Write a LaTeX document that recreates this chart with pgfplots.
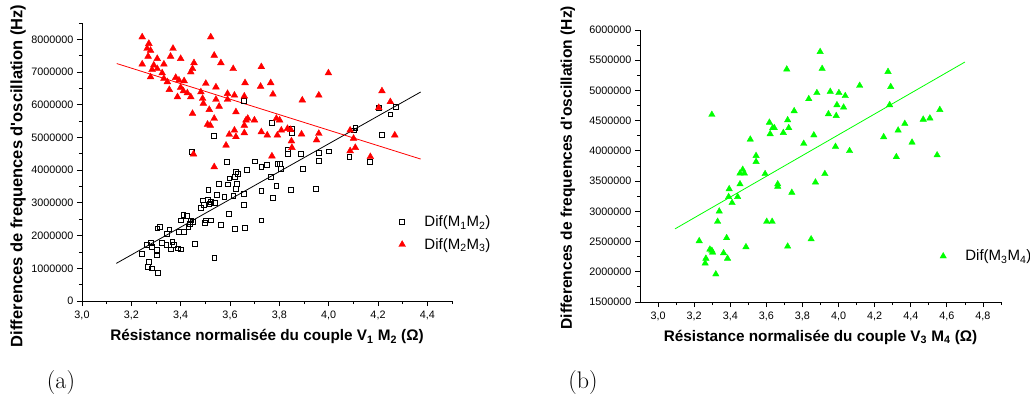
\documentclass[border=0pt]{standalone}
\usepackage{fontspec}
\usepackage{pgfplots}
\pgfplotsset{compat=1.18}
\newfontfamily\arial{Liberation Sans}
\definecolor{myred}{RGB}{255,0,0}
\definecolor{mygreen}{RGB}{0,255,0}
\pgfplotsset{
  myaxis/.style={
    scale only axis,
    anchor=south west,
    axis x line*=bottom, axis y line*=left,
    axis line style={black, line width=1pt, -},
    tick align=outside,
    major tick length=5pt, minor tick length=3pt,
    every tick/.style={black, line width=0.8pt},
    tick label style={font=\arial\fontsize{10.8}{12}\selectfont},
    xticklabel style={yshift=-1.5pt},
    /pgf/number format/assume math mode=true,
    xticklabel style={/pgf/number format/.cd, fixed, fixed zerofill, precision=1, use comma},
    yticklabel style={/pgf/number format/.cd, fixed, precision=0, 1000 sep={}},
    scaled y ticks=false, scaled x ticks=false,
    xlabel style={font=\arial\bfseries\fontsize{15.3}{17}\selectfont},
    legend style={draw=none, fill=none, inner sep=0pt, outer sep=0pt, anchor=north west,
      font=\arial\fontsize{15}{17}\selectfont, row sep=6pt, nodes={inner sep=2pt}},
    legend cell align=left,
    legend image code/.code={\path (-5pt,-4pt) (20pt,4pt);
      \draw[mark repeat=2,mark phase=2,##1] plot coordinates {(-1pt,0pt)(0pt,0pt)(1pt,0pt)};},
  }
}
\begin{document}
\begin{tikzpicture}
\useasboundingbox (0pt,0pt) rectangle (1030pt,399pt);
\begin{axis}[myaxis,
  at={(82pt,98pt)}, width=370pt, height=278pt,
  xmin=3.0, xmax=4.5, ymin=0, ymax=8500000,
  xtick={3.0,3.2,3.4,3.6,3.8,4.0,4.2,4.4},
  minor xtick={3.1,3.3,3.5,3.7,3.9,4.1,4.3,4.5},
  ytick={0,1000000,2000000,3000000,4000000,5000000,6000000,7000000,8000000},
  minor ytick={500000,1500000,2500000,3500000,4500000,5500000,6500000,7500000,8500000},
  xlabel={Résistance normalisée du couple V\textsubscript{1} M\textsubscript{2} (Ω)},
  ylabel={Differences de frequences d'oscillation (Hz)},
  xlabel style={at={(axis description cs:0.5,-0.129)}, anchor=center},
  ylabel style={at={(axis description cs:-0.173,0.45)}, anchor=center, font=\arial\bfseries\fontsize{16.5}{18}\selectfont},
  legend style={at={(axis description cs:0.851,0.313)}},
]
\addplot[only marks, mark=square, mark size=2.4pt, black, line width=0.6pt] table {
x y
3.656 6110000
3.533 5050000
3.446 4560000
3.587 4250000
3.699 4270000
3.668 4020000
3.624 3950000
3.631 3900000
3.618 3800000
3.597 3750000
3.556 3590000
3.590 3570000
3.627 3590000
3.624 3440000
3.512 3410000
3.547 3240000
3.656 3270000
3.613 3210000
3.727 3370000
3.489 3080000
3.509 3100000
3.493 2930000
3.482 2860000
3.522 3030000
3.539 3000000
3.516 2980000
3.577 3180000
3.656 2930000
3.595 2660000
3.502 2470000
3.522 2470000
3.498 2390000
3.563 2340000
3.618 2200000
3.661 2250000
3.727 2470000
3.536 1320000
3.457 1740000
3.411 2630000
3.424 2600000
3.400 2470000
3.441 2470000
3.448 2420000
3.438 2350000
3.431 2270000
3.393 2120000
3.414 2120000
3.354 2190000
3.344 2050000
3.305 2220000
3.316 2270000
3.325 1780000
3.342 1710000
3.366 1810000
3.373 1710000
3.359 1580000
3.387 1610000
3.400 1580000
3.278 1780000
3.264 1710000
3.284 1660000
3.302 1560000
3.244 1440000
3.302 1400000
3.271 1200000
3.268 1050000
3.284 1000000
3.307 860000
3.770 5450000
3.851 5270000
3.849 5140000
4.203 5910000
4.271 5930000
4.250 5710000
4.108 5290000
4.101 5220000
4.216 5090000
4.084 4410000
4.166 4250000
3.833 4640000
3.833 4490000
3.888 4490000
3.960 4540000
3.999 4580000
3.960 4280000
3.894 4030000
3.792 4200000
3.803 4200000
3.806 4030000
3.750 4170000
3.727 4100000
3.765 3800000
3.788 3520000
3.846 3390000
3.948 3420000
3.774 3160000
};
\addlegendentry{Dif(M\textsubscript{1}M\textsubscript{2})}
\addplot[only marks, mark=triangle*, mark size=3.9pt, myred, mark options={fill=myred, draw=myred}] table {
x y
3.244 8070000
3.522 8070000
3.271 7870000
3.264 7720000
3.278 7660000
3.369 7720000
3.536 7510000
3.268 7480000
3.305 7410000
3.359 7480000
3.400 7410000
3.563 7280000
3.613 7100000
3.244 7240000
3.291 7210000
3.305 7100000
3.284 7070000
3.332 7240000
3.454 7280000
3.448 7100000
3.441 7000000
3.278 6850000
3.325 6970000
3.332 6800000
3.346 6700000
3.380 6830000
3.393 6750000
3.414 6730000
3.354 6460000
3.400 6530000
3.411 6420000
3.427 6360000
3.441 6240000
3.387 6240000
3.502 6650000
3.482 6390000
3.489 6190000
3.492 6040000
3.543 6540000
3.590 6340000
3.618 6290000
3.543 6160000
3.556 5950000
3.590 6160000
3.658 6260000
3.661 6670000
3.516 5850000
3.536 5580000
3.448 5730000
3.509 5400000
3.520 5370000
3.624 5780000
3.672 5580000
3.699 5530000
3.658 5370000
3.618 5220000
3.624 5020000
3.597 5090000
3.658 5140000
3.727 5170000
3.584 4760000
3.452 4490000
3.536 4100000
3.727 7160000
3.999 6970000
3.724 6560000
3.765 6670000
3.774 6320000
3.893 6140000
3.960 6290000
4.216 6420000
4.250 6090000
4.203 5910000
3.665 5530000
3.788 5580000
3.801 5530000
3.751 5070000
3.792 5070000
3.808 5220000
3.833 5270000
3.846 5240000
3.890 5100000
3.960 5120000
3.849 4890000
3.851 4690000
3.951 4920000
4.087 5220000
4.101 4970000
4.087 4590000
4.108 4690000
4.169 4410000
4.268 5070000
3.770 4430000
};
\addlegendentry{Dif(M\textsubscript{2}M\textsubscript{3})}
\addplot[black, line width=0.8pt, no marks, forget plot] coordinates {(3.139,1150000) (4.373,6390000)};
\addplot[myred, line width=0.8pt, no marks, forget plot] coordinates {(3.141,7260000) (4.373,4340000)};
\end{axis}

\begin{axis}[myaxis,
  at={(640pt,97pt)}, width=361pt, height=272pt,
  xmin=2.9, xmax=4.9, ymin=1500000, ymax=6000000,
  xtick={3.0,3.2,3.4,3.6,3.8,4.0,4.2,4.4,4.6,4.8},
  minor xtick={3.1,3.3,3.5,3.7,3.9,4.1,4.3,4.5,4.7,4.9},
  ytick={1500000,2000000,2500000,3000000,3500000,4000000,4500000,5000000,5500000,6000000},
  minor ytick={1750000,2250000,2750000,3250000,3750000,4250000,4750000,5250000,5750000},
  xlabel={Résistance normalisée du couple V\textsubscript{3} M\textsubscript{4} (Ω)},
  ylabel={Differences de frequences d'oscillation (Hz)},
  xlabel style={at={(axis description cs:0.5,-0.129)}, anchor=center},
  ylabel style={at={(axis description cs:-0.2,0.494)}, anchor=center, font=\arial\bfseries\fontsize{15.6}{17}\selectfont},
  legend style={at={(axis description cs:0.8255,0.1985)}},
]
\addplot[only marks, mark=triangle*, mark size=3.7pt, mygreen, mark options={fill=mygreen, draw=mygreen}] table {
x y
3.298 4600000
3.713 5350000
3.718 4510000
3.617 4470000
3.644 4380000
3.621 4280000
3.694 4300000
3.724 4380000
3.511 4190000
3.543 3920000
3.543 3820000
3.469 3690000
3.454 3630000
3.478 3630000
3.454 3450000
3.593 3620000
3.663 3450000
3.663 3410000
3.394 3370000
3.391 3240000
3.441 3240000
3.410 3140000
3.339 3000000
3.330 2830000
3.228 2510000
3.380 2560000
3.287 2370000
3.298 2350000
3.302 2320000
3.265 2220000
3.261 2140000
3.363 2310000
3.385 2220000
3.320 1960000
3.487 2410000
3.602 2830000
3.632 2830000
3.718 2420000
3.741 3310000
3.872 3480000
3.848 2540000
3.898 5640000
3.909 5360000
4.274 5310000
4.289 5060000
4.117 5080000
3.835 4860000
3.880 4960000
3.954 4980000
4.002 4960000
4.037 4910000
3.991 4760000
4.028 4720000
3.944 4610000
3.987 4580000
4.283 4760000
4.561 4680000
4.469 4520000
4.506 4540000
4.367 4450000
4.330 4340000
4.250 4230000
4.407 4140000
4.320 3900000
4.546 3930000
3.754 4660000
3.635 4380000
3.807 4120000
3.863 4260000
3.983 4070000
4.061 4000000
3.924 3620000
};
\addlegendentry{Dif(M\textsubscript{3}M\textsubscript{4})}
\addplot[mygreen, line width=0.8pt, no marks, forget plot] coordinates {(3.094,2710000) (4.70,5470000)};
\end{axis}
\node[font=\fontsize{24}{24}\selectfont] at (61pt,16pt) {(a)};
\node[font=\fontsize{24}{24}\selectfont] at (583pt,16pt) {(b)};
\end{tikzpicture}
\end{document}
